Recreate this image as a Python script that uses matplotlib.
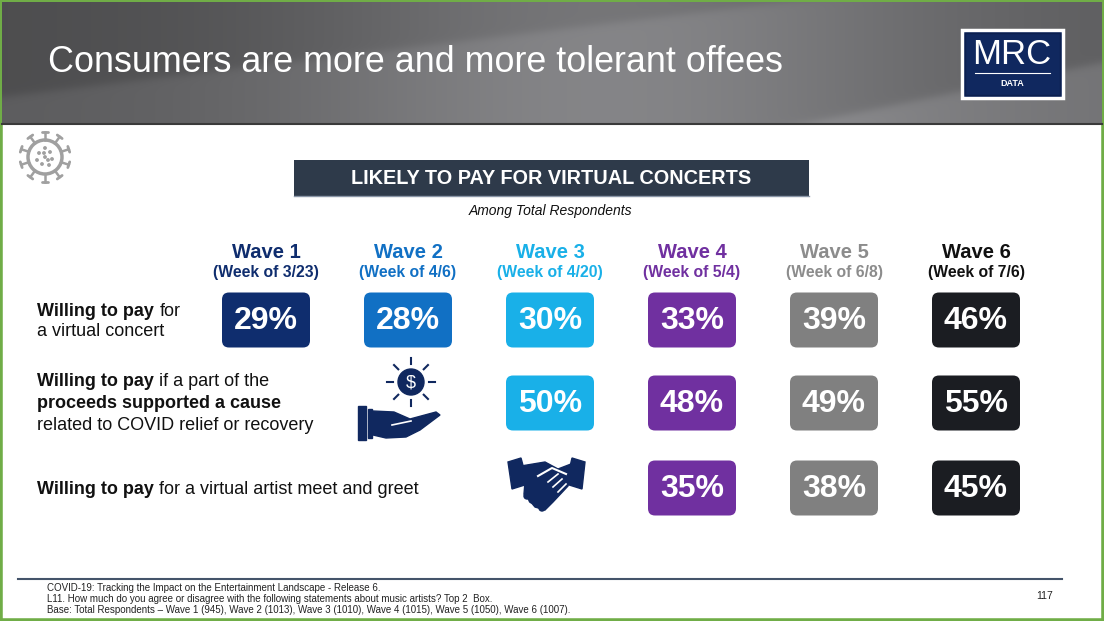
import numpy as np
import matplotlib
matplotlib.use('agg')
import matplotlib.pyplot as plt
from matplotlib.patches import FancyBboxPatch, Rectangle, Circle, Polygon

# Data
waves = ['Wave 1', 'Wave 2', 'Wave 3', 'Wave 4', 'Wave 5', 'Wave 6']
weeks = ['(Week of 3/23)', '(Week of 4/6)', '(Week of 4/20)', '(Week of 5/4)', '(Week of 6/8)', '(Week of 7/6)']
concert = [29, 28, 30, 33, 39, 46]
cause = [None, None, 50, 48, 49, 55]
meet_greet = [None, None, None, 35, 38, 45]
rows = [concert, cause, meet_greet]

box_colors = ['#0f2d6e', '#1170c4', '#19b0e8', '#7030a0', '#808080', '#1b1d22']
head_colors = ['#0f2d6e', '#1170c4', '#19b0e8', '#7030a0', '#8c8c8c', '#111111']

title = 'Consumers are more and more tolerant offees'
banner = 'LIKELY TO PAY FOR VIRTUAL CONCERTS'
subtitle = 'Among Total Respondents'
footer = ['COVID-19: Tracking the Impact on the Entertainment Landscape - Release 6.',
          'L11. How much do you agree or disagree with the following statements about music artists? Top 2  Box.',
          'Base: Total Respondents \u2013 Wave 1 (945), Wave 2 (1013), Wave 3 (1010), Wave 4 (1015), Wave 5 (1050), Wave 6 (1007).']
page = '117'

SANS = ['Liberation Sans', 'DejaVu Sans']
NAVY = '#10285f'

W, H = 1104, 621
fig = plt.figure(figsize=(W / 100, H / 100), dpi=100)
ax = fig.add_axes([0, 0, 1, 1])
ax.set_xlim(0, W)
ax.set_ylim(H, 0)
ax.axis('off')
renderer = fig.canvas.get_renderer()

# green frame
ax.add_patch(Rectangle((0, 0), W, H, facecolor='white', edgecolor='#70ad47', lw=4, zorder=0))


def sigmoid(z):
    return 0.5 + 0.5 * np.tanh(z)


# header band, grey with soft diagonal sheens
xx = np.linspace(0, 1, 500)
yy = np.linspace(0, 1, 120)
X, Y = np.meshgrid(xx, yy)
val = 0.30 + 0.16 * np.exp(-((X - 0.55) / 0.3) ** 2)
val += 0.06 * sigmoid((Y - (0.78 - 1.1 * X)) / 0.04)
val += 0.08 * sigmoid((Y - (2.35 - 1.85 * X)) / 0.04)
img = np.dstack([val, val, val * 1.02]).clip(0, 1)
ax.imshow(img, extent=(2, W - 2, 124, 2), aspect='auto', zorder=1, interpolation='bilinear')
ax.plot([2, W - 2], [124, 124], color='#3a3a3a', lw=1.5, zorder=2)
ax.text(48, 62, title, color='white', fontsize=25.8, family=SANS, va='center', ha='left', zorder=3)

# logo
ax.add_patch(Rectangle((962, 30), 101, 68, facecolor=NAVY, edgecolor='white', lw=2.5, zorder=3))
ax.add_patch(Rectangle((965, 33), 95, 62, facecolor='none', edgecolor='#0b1f4f', lw=1, zorder=3))
ax.text(1012, 55, 'MRC', color='white', fontsize=25, family=SANS, ha='center', va='center', zorder=4)
ax.plot([975, 1050], [73, 73], color='white', lw=0.8, zorder=4)
ax.text(1012, 84, 'DATA', color='white', fontsize=6.5, fontweight='bold', family=SANS,
        ha='center', va='center', zorder=4)

# virus icon
vc = (45, 157)
grey = '#a0a0a0'
ax.add_patch(Circle(vc, 17, facecolor='none', edgecolor=grey, lw=2.5, zorder=3))
for a in np.arange(0, 360, 36) + 18:
    r = np.deg2rad(a)
    x0, y0 = vc[0] + 17 * np.cos(r), vc[1] + 17 * np.sin(r)
    x1, y1 = vc[0] + 25 * np.cos(r), vc[1] + 25 * np.sin(r)
    ax.plot([x0, x1], [y0, y1], color=grey, lw=1.8, zorder=3)
    ax.plot([x1 - 3 * np.sin(r), x1 + 3 * np.sin(r)], [y1 + 3 * np.cos(r), y1 - 3 * np.cos(r)],
            color=grey, lw=2, zorder=3, solid_capstyle='round')
for dx, dy in [(0, -9), (-6, -4), (5, -5), (0, 0), (-8, 3), (7, 2), (-3, 7), (4, 8), (-1, -4), (3, 3)]:
    ax.add_patch(Circle((vc[0] + dx, vc[1] + dy), 1.2, color=grey, zorder=3))

# banner
ax.add_patch(Rectangle((294, 160), 515, 36, facecolor='#2e3a4a', edgecolor='none', zorder=2))
ax.plot([294, 809], [195.5, 195.5], color='#8a96a8', lw=1, zorder=3)
ax.text(551, 178, banner, color='white', fontsize=14.3, fontweight='bold', family=SANS,
        ha='center', va='center', zorder=3)
ax.text(551, 211, subtitle, color='#111111', fontsize=10, style='italic', family=SANS,
        ha='center', va='center')

# columns
col_x0, col_dx = 266, 142
row_y = [320, 403, 488]
box_w, box_h = 88, 55
for i, (wv, wk) in enumerate(zip(waves, weeks)):
    cx = col_x0 + i * col_dx
    ax.text(cx, 252, wv, color=head_colors[i], fontsize=14.5, fontweight='bold', family=SANS,
            ha='center', va='center')
    ax.text(cx, 273, wk, color=head_colors[i], fontsize=11.3, fontweight='bold', family=SANS,
            ha='center', va='center')
    for j, vals in enumerate(rows):
        v = vals[i]
        if v is None:
            continue
        ax.add_patch(FancyBboxPatch((cx - box_w / 2, row_y[j] - box_h / 2), box_w, box_h,
                                    boxstyle='round,pad=0,rounding_size=7',
                                    facecolor=box_colors[i], edgecolor='none', zorder=2))
        ax.text(cx, row_y[j] + 1, f'{v}%', color='white', fontsize=23, fontweight='bold', family=SANS,
                ha='center', va='center', zorder=3)


def rich_line(x, y, parts, size=13):
    gap = size * 100 / 72 * 0.3
    for s, weight in parts:
        t = ax.text(x, y, s, fontsize=size, fontweight=weight, family=SANS, color='#111111',
                    ha='left', va='center')
        x += t.get_window_extent(renderer).width + gap


rich_line(37, 311, [('Willing to pay', 'bold'), ('for', 'normal')])
rich_line(37, 331, [('a virtual concert', 'normal')])
rich_line(37, 381, [('Willing to pay', 'bold'), ('if a part of the', 'normal')])
rich_line(37, 403, [('proceeds supported a cause', 'bold')])
rich_line(37, 425, [('related to COVID relief or recovery', 'normal')])
rich_line(37, 489, [('Willing to pay', 'bold'), ('for a virtual artist meet and greet', 'normal')])

# hand with coin icon
sc = (411, 382)
ax.add_patch(Circle(sc, 13, color=NAVY, zorder=3))
ax.text(sc[0], sc[1] + 1, '$', color='white', fontsize=13, family=SANS, ha='center', va='center', zorder=4)
for a in np.arange(0, 360, 45):
    r = np.deg2rad(a)
    ax.plot([sc[0] + 18 * np.cos(r), sc[0] + 24 * np.cos(r)], [sc[1] + 18 * np.sin(r), sc[1] + 24 * np.sin(r)],
            color=NAVY, lw=1.5, zorder=3)
ax.add_patch(Rectangle((358, 406), 8, 34, color=NAVY, zorder=3))
ax.add_patch(Rectangle((368, 409), 4, 29, color=NAVY, zorder=3))
ax.add_patch(Polygon([(373, 411), (394, 412), (410, 419), (436, 412), (440, 415), (420, 430),
                      (406, 437), (386, 438), (373, 435)], closed=True, color=NAVY, zorder=3))
ax.plot([392, 411], [425, 421], color='white', lw=1.2, zorder=4)

# handshake icon
ax.add_patch(Polygon([(508, 462), (521, 458), (528, 484), (512, 489)], closed=True, color=NAVY, zorder=3))
ax.add_patch(Polygon([(585, 462), (572, 458), (566, 484), (582, 489)], closed=True, color=NAVY, zorder=3))
ax.add_patch(Polygon([(521, 466), (545, 462), (558, 469), (571, 464), (568, 486), (553, 502), (545, 510),
                      (535, 507), (524, 494), (525, 482)], closed=True, color=NAVY, zorder=3))
for k in range(4):
    ax.add_patch(Circle((527 + k * 5, 496 + k * 4), 3, color=NAVY, zorder=3))
ax.plot([538, 552, 566], [476, 468, 474], color='white', lw=1.5, zorder=4)
for k in range(3):
    ax.plot([548 + k * 5, 558 + k * 4], [482 + k * 5, 474 + k * 5], color='white', lw=1.2, zorder=4)

# footer
ax.plot([18, 1062], [579, 579], color='#44546a', lw=1.5)
for k, line in enumerate(footer):
    ax.text(47, 588 + k * 11, line, fontsize=7, family=SANS, color='#222222', ha='left', va='center')
ax.text(1045, 596, page, fontsize=7.5, family=SANS, color='#222222', ha='center', va='center')

fig.savefig('out.png', dpi=100)
